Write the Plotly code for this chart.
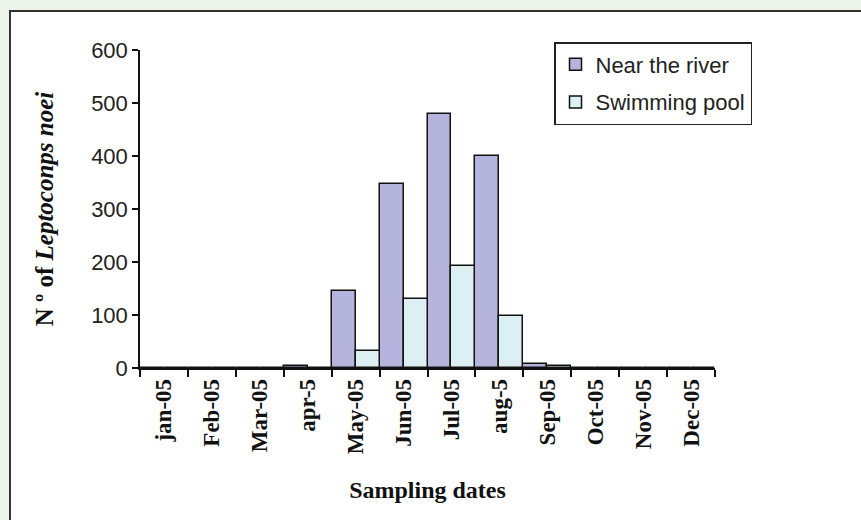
import plotly.graph_objects as go

months = ["jan-05", "Feb-05", "Mar-05", "apr-5", "May-05", "Jun-05", "Jul-05",
          "aug-5", "Sep-05", "Oct-05", "Nov-05", "Dec-05"]
near_river = [0, 0, 0, 4, 145, 347, 479, 400, 8, 0, 0, 0]
swimming_pool = [0, 0, 0, 0, 32, 130, 192, 98, 3, 0, 0, 0]

W, H = 861, 520
L, R_px, T, B_px = 140, 715, 50, 368  # plot area in pixels

fig = go.Figure()
fig.add_trace(go.Bar(x=months, y=near_river, name="Near the river",
                     marker=dict(color="#b4b4de", line=dict(color="#111111", width=1.5)),
                     legendgroup="a"))
fig.add_trace(go.Bar(x=months, y=swimming_pool, name="Swimming pool",
                     marker=dict(color="#dcf0f3", line=dict(color="#111111", width=1.5)),
                     legendgroup="b"))

def px_to_paper_x(px):
    return (px - L) / (R_px - L)

def px_to_paper_y(py):
    return (B_px - py) / (B_px - T)

fig.add_shape(type="rect", xref="paper", yref="paper",
              x0=px_to_paper_x(10), x1=px_to_paper_x(W + 300),
              y0=px_to_paper_y(H + 300), y1=px_to_paper_y(11),
              fillcolor="white", line=dict(color="#333333", width=2), layer="below")

fig.update_layout(
    width=W, height=H,
    margin=dict(l=L, r=W - R_px, t=T, b=H - B_px, pad=0),
    paper_bgcolor="#edf5ea",
    plot_bgcolor="rgba(0,0,0,0)",
    barmode="group", bargap=0, bargroupgap=0,
    showlegend=True,
    legend=dict(x=px_to_paper_x(554), y=px_to_paper_y(42), xanchor="left", yanchor="top",
                bordercolor="#222222", borderwidth=1.5, bgcolor="white",
                font=dict(family="Liberation Sans", size=22, color="#222222"),
                traceorder="grouped", tracegroupgap=6, itemwidth=30),
    xaxis=dict(
        type="category", tickangle=-90,
        tickfont=dict(family="Liberation Serif", size=23, color="#111111", weight="bold"),
        showline=True, linecolor="#111111", linewidth=1.5,
        ticks="outside", tickson="boundaries", ticklen=7, tickcolor="#111111", tickwidth=1.5,
        showgrid=False,
        title=dict(text="<b>Sampling dates</b>", standoff=28,
                   font=dict(family="Liberation Serif", size=24, color="#111111")),
    ),
    yaxis=dict(
        range=[0, 600], dtick=100,
        tickfont=dict(family="Liberation Sans", size=22, color="#222222"),
        showline=True, linecolor="#111111", linewidth=1.5,
        ticks="outside", ticklen=6, tickcolor="#111111", tickwidth=1.5,
        showgrid=False, zeroline=False,
        title=dict(text="<b>N º of <i>Leptoconps noei</i></b>", standoff=30,
                   font=dict(family="Liberation Serif", size=25, color="#111111")),
    ),
)

fig.write_html("out.html", config={"displayModeBar": False},
               post_script="document.body.style.margin='0';document.body.style.background='white';")
